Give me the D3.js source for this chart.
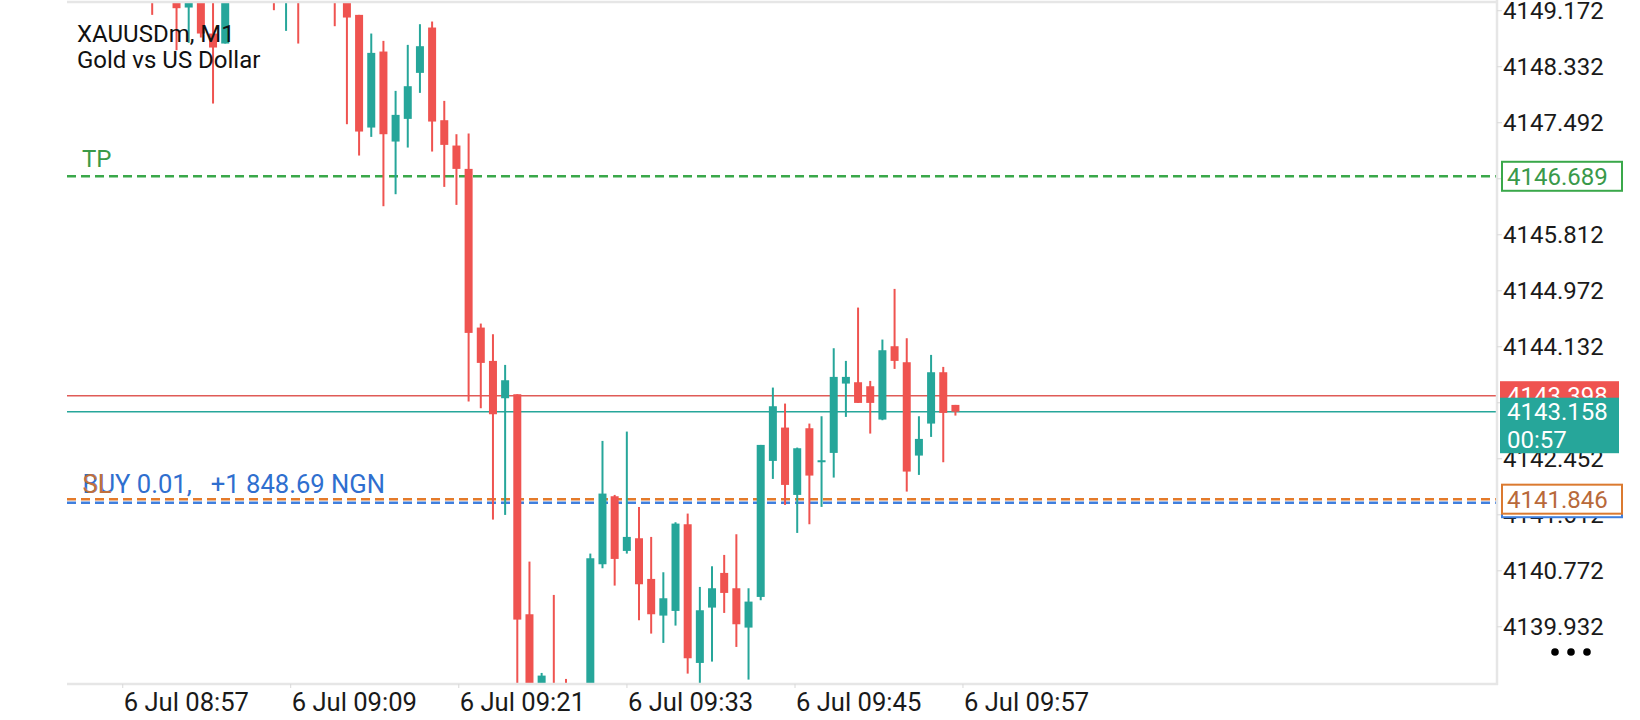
<!DOCTYPE html>
<html><head><meta charset="utf-8">
<script src="https://cdn.jsdelivr.net/npm/d3@7"></script>
<style>html,body{margin:0;padding:0;background:#fff;overflow:hidden}svg{display:block;font-family:Roboto,"Noto Sans",sans-serif}</style>
</head><body><svg id="chart" width="1640" height="720"></svg>
<script>
// ---- data (M1 candles, index 0..66) ----
const opens  = [4149.70,4149.60,4149.55,4149.22,4149.50,4148.83,4148.68,4149.50,4149.65,4149.55,
                4149.60,4149.40,4149.70,4149.45,4149.60,4149.50,4149.35,4149.11,4147.42,4148.56,
                4147.21,4147.55,4148.24,4148.92,4147.53,4147.15,4146.80,4144.42,4143.92,4143.36,
                4143.42,4140.12,4138.70,4138.95,4138.90,4138.70,4138.85,4140.87,4141.89,4141.07,
                4141.26,4140.65,4140.10,4140.17,4141.47,4139.39,4140.22,4140.74,4140.51,4139.92,
                4140.38,4142.42,4142.92,4141.91,4142.91,4142.41,4142.54,4143.58,4143.60,4143.54,
                4143.04,4144.14,4143.90,4142.50,4142.98,4143.75,4143.26];
const highs  = [4149.90,4149.95,4149.75,4149.60,4149.65,4149.40,4149.60,4149.80,4149.90,4149.75,
                4149.80,4149.85,4149.90,4149.70,4149.80,4149.70,4149.45,4149.11,4148.83,4148.72,
                4147.97,4148.66,4148.97,4149.01,4147.82,4147.32,4147.33,4144.48,4144.32,4143.86,
                4143.42,4140.91,4139.24,4140.41,4139.15,4139.00,4141.03,4142.72,4141.91,4142.86,
                4141.73,4141.28,4140.75,4141.50,4141.63,4140.53,4140.84,4141.01,4141.32,4140.51,
                4142.66,4143.52,4143.28,4142.62,4142.98,4143.09,4144.11,4143.92,4144.72,4143.62,
                4144.24,4145.00,4144.26,4143.09,4144.01,4143.83,4143.26];
const lows   = [4149.11,4149.40,4148.58,4148.69,4148.77,4147.78,4148.68,4149.35,4149.40,4149.38,
                4149.18,4148.87,4148.68,4149.35,4149.40,4148.94,4147.47,4147.00,4147.28,4146.24,
                4146.42,4147.12,4147.94,4147.06,4146.53,4146.26,4143.31,4143.21,4141.54,4141.61,
                4138.90,4138.50,4138.40,4138.60,4138.55,4138.40,4138.70,4140.81,4140.55,4141.03,
                4140.03,4139.83,4139.69,4139.95,4139.23,4139.00,4139.41,4140.14,4139.63,4139.14,
                4140.33,4142.15,4141.76,4141.34,4141.47,4141.73,4142.17,4143.08,4143.29,4142.83,
                4143.03,4143.80,4141.96,4142.21,4142.78,4142.40,4143.10];
const closes = [4149.45,4149.75,4149.21,4149.45,4148.83,4148.62,4149.40,4149.65,4149.55,4149.60,
                4149.40,4149.70,4149.45,4149.60,4149.50,4149.35,4149.07,4147.36,4148.54,4147.32,
                4147.61,4148.04,4148.64,4147.51,4147.16,4146.80,4144.34,4143.89,4143.12,4143.63,
                4140.04,4138.80,4139.20,4138.80,4138.75,4138.85,4140.96,4141.93,4140.95,4141.28,
                4140.57,4140.12,4140.36,4141.48,4139.46,4140.18,4140.51,4140.44,4139.97,4140.31,
                4142.66,4143.24,4142.06,4142.61,4142.20,4142.43,4143.68,4143.68,4143.29,4143.29,
                4144.08,4143.92,4142.26,4142.75,4143.75,4143.14,4143.158];

const timeTickPos    = [-2.42, 11.38, 25.19, 39.01, 52.82, 66.62];
const timeTickLabels = ["6 Jul 08:57","6 Jul 09:09","6 Jul 09:21","6 Jul 09:33","6 Jul 09:45","6 Jul 09:57"];
const priceTicks = [4149.172,4148.332,4147.492,4146.652,4145.812,4144.972,4144.132,4143.292,4142.452,4141.612,4140.772,4139.932];
const priceView  = [4139.074, 4149.303];
const barView    = [-7, 110.5];

const askPrice = 4143.398, bidPrice = 4143.158;
const tpPrice = 4146.689, slPrice = 4141.846, entryPrice = 4141.793;
const countdown = "00:57";
const titleLines = ["XAUUSDm, M1", "Gold vs US Dollar"];
const positionText = "BUY 0.01,   +1 848.69 NGN";

// ---- layout ----
const W = 1640, H = 720;
const L = 67, R = 1497, T = 2, B = 684;
const UP = "#26a69a", DN = "#ef5350";
const FS = 24, FS2 = 25.6;

const svg = d3.select("#chart");
const x = d3.scaleLinear().domain(barView).range([L, R]);
const y = d3.scaleLinear().domain(priceView).range([B, T]);

svg.append("rect").attr("width", W).attr("height", H).attr("fill", "#fff");
svg.append("defs").append("clipPath").attr("id", "plotclip")
  .append("rect").attr("x", L).attr("y", T).attr("width", R - L).attr("height", B - T);

// horizontal price lines
const lines = svg.append("g").attr("clip-path", "url(#plotclip)");
lines.append("line").attr("x1", L).attr("x2", R).attr("y1", y(askPrice)).attr("y2", y(askPrice))
  .attr("stroke", "#e05b57").attr("stroke-width", 1.6);
lines.append("line").attr("x1", L).attr("x2", R).attr("y1", y(bidPrice)).attr("y2", y(bidPrice))
  .attr("stroke", UP).attr("stroke-width", 1.6);
lines.append("line").attr("x1", L).attr("x2", R).attr("y1", y(tpPrice)).attr("y2", y(tpPrice))
  .attr("stroke", "#3aa84a").attr("stroke-width", 2.6).attr("stroke-dasharray", "9,5");
lines.append("line").attr("x1", L).attr("x2", R).attr("y1", y(entryPrice)).attr("y2", y(entryPrice))
  .attr("stroke", "#3f7fde").attr("stroke-width", 2.6).attr("stroke-dasharray", "9,5");
lines.append("line").attr("x1", L).attr("x2", R).attr("y1", y(slPrice)).attr("y2", y(slPrice))
  .attr("stroke", "#e47a2a").attr("stroke-width", 2.6).attr("stroke-dasharray", "9,5");

// candles
const idx = d3.range(opens.length);
const cg = svg.append("g").attr("clip-path", "url(#plotclip)");
const col = i => closes[i] >= opens[i] ? UP : DN;
cg.selectAll("line.wick").data(idx).join("line").attr("class", "wick")
  .attr("x1", i => x(i)).attr("x2", i => x(i))
  .attr("y1", i => y(highs[i])).attr("y2", i => y(lows[i]))
  .attr("stroke", col).attr("stroke-width", 2);
cg.selectAll("rect.body").data(idx).join("rect").attr("class", "body")
  .attr("x", i => x(i) - 4).attr("width", 8)
  .attr("y", i => y(Math.max(opens[i], closes[i])))
  .attr("height", i => Math.max(2, Math.abs(y(opens[i]) - y(closes[i]))))
  .attr("fill", col);

// frame
const frame = "#e6e6e6";
svg.append("line").attr("x1", L).attr("x2", R).attr("y1", T).attr("y2", T).attr("stroke", frame).attr("stroke-width", 2.5);
svg.append("line").attr("x1", L).attr("x2", R + 1).attr("y1", B).attr("y2", B).attr("stroke", frame).attr("stroke-width", 2.5);
svg.append("line").attr("x1", R).attr("x2", R).attr("y1", T - 2).attr("y2", B + 1).attr("stroke", frame).attr("stroke-width", 2.5);

// price axis
const yAxis = svg.append("g");
yAxis.selectAll("line").data(priceTicks).join("line")
  .attr("x1", R).attr("x2", R + 5).attr("y1", d => y(d)).attr("y2", d => y(d))
  .attr("stroke", "#d8d8d8").attr("stroke-width", 1);
yAxis.selectAll("text").data(priceTicks).join("text")
  .attr("x", R + 6).attr("y", d => y(d) + 8.5)
  .attr("font-size", FS).attr("fill", "#1a1a1a")
  .text(d => d.toFixed(3));

// time axis
const xAxis = svg.append("g");
xAxis.selectAll("line").data(timeTickPos).join("line")
  .attr("x1", d => x(d)).attr("x2", d => x(d)).attr("y1", B).attr("y2", B + 4)
  .attr("stroke", "#d8d8d8").attr("stroke-width", 1);
xAxis.selectAll("text").data(timeTickPos).join("text")
  .attr("x", d => x(d) + 1).attr("y", 711)
  .attr("font-size", FS2).attr("fill", "#1a1a1a")
  .text((d, i) => timeTickLabels[i]);

// price tags
function outlineTag(p, stroke, textFill, label) {
  const g = svg.append("g");
  g.append("rect").attr("x", R + 5).attr("y", y(p) - 14.5).attr("width", 120).attr("height", 29)
    .attr("fill", "#fff").attr("stroke", stroke).attr("stroke-width", 2);
  if (label) g.append("text").attr("x", R + 10).attr("y", y(p) + 8.5)
    .attr("font-size", FS).attr("fill", textFill).text(label);
}
outlineTag(tpPrice, "#3aa84a", "#39994a", tpPrice.toFixed(3));
outlineTag(entryPrice, "#3f7fde", "#3f7fde", null);
outlineTag(slPrice, "#db7a30", "#b8693a", slPrice.toFixed(3));

// ask tag
svg.append("rect").attr("x", R + 3).attr("y", y(askPrice) - 14.5).attr("width", 119).attr("height", 29).attr("fill", DN);
svg.append("text").attr("x", R + 10).attr("y", y(askPrice) + 8.5).attr("font-size", FS).attr("fill", "#fff").text(askPrice.toFixed(3));
// bid tag with countdown
svg.append("rect").attr("x", R + 3).attr("y", y(bidPrice) - 14).attr("width", 119).attr("height", 55.5).attr("fill", UP);
svg.append("text").attr("x", R + 10).attr("y", y(bidPrice) + 8.5).attr("font-size", FS).attr("fill", "#fff").text(bidPrice.toFixed(3));
svg.append("text").attr("x", R + 10).attr("y", y(bidPrice) + 36.5).attr("font-size", FS).attr("fill", "#fff").text(countdown);

// title
svg.selectAll("text.title").data(titleLines).join("text").attr("class", "title")
  .attr("x", 77).attr("y", (d, i) => 42 + i * 26)
  .attr("font-size", FS).attr("fill", "#111").text(d => d);

// line labels
svg.append("text").attr("x", 82).attr("y", y(tpPrice) - 9.5).attr("font-size", FS).attr("fill", "#3a9a48").text("TP");
svg.append("text").attr("x", 82.5).attr("y", y(slPrice) - 6).attr("font-size", FS2).attr("fill", "#2f6fcf")
  .style("white-space", "pre").attr("xml:space", "preserve").text(positionText);
svg.append("text").attr("x", 82.5).attr("y", y(slPrice) - 6).attr("font-size", FS2).attr("fill", "#c0703c").text("SL");

// menu dots
svg.selectAll("circle.dot").data([0, 1, 2]).join("circle").attr("class", "dot")
  .attr("cx", d => 1555 + d * 16).attr("cy", 652).attr("r", 3.8).attr("fill", "#000");
</script>
</body></html>
